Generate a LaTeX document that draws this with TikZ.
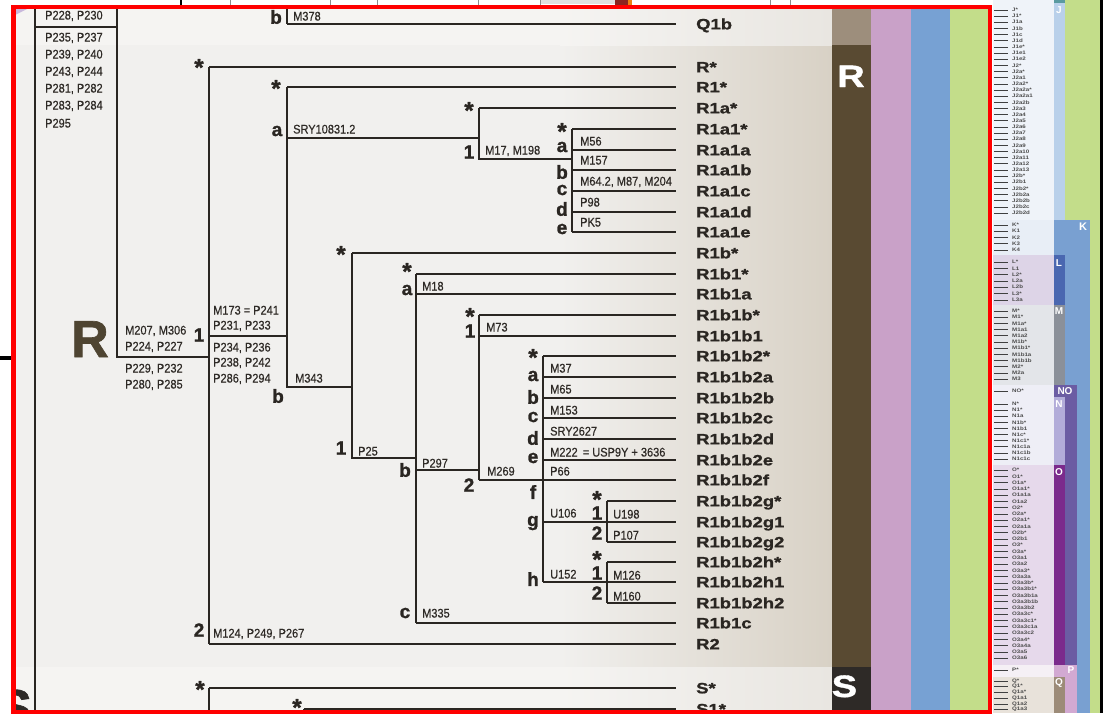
\documentclass[tikz,border=0pt]{standalone}
\usepackage{fontspec}
\setmainfont{Liberation Sans}
\newfontfamily\leaffont[FakeStretch=1.23, BoldFeatures={FakeBold=1.2}]{Liberation Sans}
\newfontfamily\tinyfont[FakeStretch=1.23]{Liberation Sans}
\newfontfamily\markfont[FakeStretch=0.88, FakeBold=0.5]{Liberation Sans}
\newfontfamily\heavyfont[BoldFeatures={FakeBold=1.3}]{Liberation Sans}
\definecolor{ink}{HTML}{2A2622}
\definecolor{mkc}{HTML}{2E2A26}
\definecolor{Rbig}{HTML}{4E4431}
\definecolor{bandR}{HTML}{594A32}
\definecolor{bandQ}{HTML}{9D8E7C}
\definecolor{bandS}{HTML}{2E2A27}
\definecolor{pinkb}{HTML}{C9A1C8}
\definecolor{blueb}{HTML}{77A1D3}
\definecolor{greenb}{HTML}{C3DD8A}
\definecolor{bgL}{HTML}{F1F0EE}
\definecolor{bgR}{HTML}{D8D1C5}
\definecolor{bgQL}{HTML}{F5F4F2}
\definecolor{bgQR}{HTML}{E9E6E1}
\definecolor{lav}{HTML}{C8B8DC}
\definecolor{frame}{HTML}{FF0000}
\definecolor{Jbg}{HTML}{EFF3F9}
\definecolor{Jband}{HTML}{B9D0EA}
\definecolor{Kbg}{HTML}{E8EEF6}
\definecolor{Kband}{HTML}{79A0D1}
\definecolor{Lbg}{HTML}{DDD4E7}
\definecolor{Lband}{HTML}{4A67B0}
\definecolor{Mbg}{HTML}{E3E5E9}
\definecolor{Mband}{HTML}{8B9099}
\definecolor{NObg}{HTML}{EEEEF6}
\definecolor{NOband}{HTML}{6B5CA3}
\definecolor{Nband}{HTML}{B2ACD9}
\definecolor{Obg}{HTML}{E6D9EB}
\definecolor{Oband}{HTML}{7B2A8C}
\definecolor{Pbg}{HTML}{F5F0F5}
\definecolor{Pband}{HTML}{D2A9D2}
\definecolor{Qbg}{HTML}{E8E2DA}
\definecolor{Qband}{HTML}{9C8B78}
\definecolor{teal}{HTML}{5A9AA0}
\definecolor{darkred}{HTML}{8B2420}
\newcommand\leafline[4]{%
  \node[leaf] (#1) at (696,#2) {#3};
  \coordinate (#1-s) at (#4,#2);
  \draw[br] (#1-s) -- (#1-s -| lineend);}
\newcommand\mkr[4]{\node[mk] (#1) at (#2,#3) {#4};}
\newcommand\blt[4]{\node[bl] (#1) at (#2,#3) {#4};}
\newcommand\stx[3]{\node[st] (#1) at (#2,#3) {*};}
\begin{document}
\begin{tikzpicture}[x=1pt,y=-1pt,
  br/.style={draw=ink, line width=1.8pt},
  leaf/.style={anchor=west, inner sep=0pt, text height=10.7pt, text depth=0pt, text=ink, font=\leaffont\bfseries\fontsize{15}{15}\selectfont},
  mk/.style={anchor=west, inner sep=0pt, text height=9pt, text depth=0pt, text=mkc, font=\markfont\fontsize{12.5}{12.5}\selectfont},
  bl/.style={inner sep=0pt, text=ink, font=\heavyfont\bfseries\fontsize{19}{19}\selectfont},
  st/.style={anchor=center, inner sep=0pt, text height=17.3pt, text depth=-10.3pt, text=ink, font=\heavyfont\bfseries\fontsize{24}{24}\selectfont},
  tiny/.style={anchor=west, inner sep=0pt, text=black!70, font=\tinyfont\bfseries\fontsize{5}{5}\selectfont},
  tick/.style={draw=black!75, line width=0.6pt},
  bandlet/.style={inner sep=0pt, text=white, font=\bfseries\fontsize{10}{10}\selectfont},
]
\useasboundingbox (0,0) rectangle (1103,713);
\fill[white] (0,0) rectangle (1103,713);
% ---------- outside bits ----------
\draw[black, line width=2pt] (181,0) -- (181,5);
\draw[black!45, line width=0.5pt] (230,0) -- (230,5) (330,0) -- (330,5) (377,0) -- (377,5) (478,0) -- (478,5) (540,0) -- (540,5) (770,0) -- (770,5) (790,0) -- (790,5);
\fill[black!12] (541,0) rectangle (615,4);
\fill[darkred] (615,0) rectangle (628,5);
\fill[orange!70!brown] (628,0) rectangle (632,5);
\draw[black, line width=3.5pt] (0,358) -- (11,358);
% ---------- right outside panel ----------
\fill[Jbg] (993,0) rectangle (1054,220);
\fill[Kbg] (993,220) rectangle (1054,255);
\fill[Lbg] (993,255) rectangle (1054,305);
\fill[Mbg] (993,305) rectangle (1054,385);
\fill[NObg] (993,385) rectangle (1054,465);
\fill[Obg] (993,465) rectangle (1054,665);
\fill[Pbg] (993,665) rectangle (1054,677);
\fill[Qbg] (993,677) rectangle (1054,713);
\fill[greenb] (1054,0) rectangle (1100,713);
\fill[Jband] (1054,0) rectangle (1065,220);
\fill[teal] (1054,0) rectangle (1065,3);
\fill[Kband] (1054,220) rectangle (1090,713);
\fill[Lband] (1054,255) rectangle (1065,305);
\fill[Mband] (1054,305) rectangle (1065,385);
\fill[NOband] (1054,385) rectangle (1077,665);
\fill[Nband] (1054,397) rectangle (1065,465);
\fill[Oband] (1054,465) rectangle (1065,665);
\fill[Pband] (1054,665) rectangle (1077,713);
\fill[Qband] (1054,677) rectangle (1065,713);
\fill[black] (1100,0) rectangle (1103,713);
\node[bandlet] (bJ) at (1059,10) {J};
\node[bandlet, font=\bfseries\fontsize{11}{11}\selectfont] (bK) at (1083,227) {K};
\node[bandlet] (bL) at (1059,263) {L};
\node[bandlet] (bM) at (1059,311) {M};
\node[bandlet] (bNO) at (1065,391) {NO};
\node[bandlet] (bN) at (1059,404) {N};
\node[bandlet] (bO) at (1059,472) {O};
\node[bandlet] (bP) at (1071,670) {P};
\node[bandlet] (bQ) at (1059,683) {Q};
\foreach \t [count=\i from 0] in {J*,J1*,J1a,J1b,J1c,J1d,J1e*,J1e1,J1e2,J2*,J2a*,J2a1,J2a2*,J2a2a*,J2a2a1,J2a2b,J2a3,J2a4,J2a5,J2a6,J2a7,J2a8,J2a9,J2a10,J2a11,J2a12,J2a13,J2b*,J2b1,J2b2*,J2b2a,J2b2b,J2b2c,J2b2d}
  {\node[tiny] (j\i) at (1012,10+6.15*\i) {\t}; \draw[tick] (994,10+6.15*\i) -- (1008,10+6.15*\i);}
\foreach \t [count=\i from 0] in {K*,K1,K2,K3,K4}
  {\node[tiny] (k\i) at (1012,225+6.25*\i) {\t}; \draw[tick] (994,225+6.25*\i) -- (1008,225+6.25*\i);}
\foreach \t [count=\i from 0] in {L*,L1,L2*,L2a,L2b,L3*,L3a}
  {\node[tiny] (l\i) at (1012,262+6.3*\i) {\t}; \draw[tick] (994,262+6.3*\i) -- (1008,262+6.3*\i);}
\foreach \t [count=\i from 0] in {M*,M1*,M1a*,M1a1,M1a2,M1b*,M1b1*,M1b1a,M1b1b,M2*,M2a,M3}
  {\node[tiny] (m\i) at (1012,311+6.18*\i) {\t}; \draw[tick] (994,311+6.18*\i) -- (1008,311+6.18*\i);}
\node[tiny] (no0) at (1012,391) {NO*}; \draw[tick] (994,391) -- (1008,391);
\foreach \t [count=\i from 0] in {N*,N1*,N1a,N1b*,N1b1,N1c*,N1c1*,N1c1a,N1c1b,N1c1c}
  {\node[tiny] (n\i) at (1012,404+6.1*\i) {\t}; \draw[tick] (994,404+6.1*\i) -- (1008,404+6.1*\i);}
\foreach \t [count=\i from 0] in {O*,O1*,O1a*,O1a1*,O1a1a,O1a2,O2*,O2a*,O2a1*,O2a1a,O2b*,O2b1,O3*,O3a*,O3a1,O3a2,O3a3*,O3a3a,O3a3b*,O3a3b1*,O3a3b1a,O3a3b1b,O3a3b2,O3a3c*,O3a3c1*,O3a3c1a,O3a3c2,O3a4*,O3a4a,O3a5,O3a6}
  {\node[tiny] (o\i) at (1012,470+6.27*\i) {\t}; \draw[tick] (994,470+6.27*\i) -- (1008,470+6.27*\i);}
\node[tiny] (p0) at (1012,670) {P*}; \draw[tick] (994,670) -- (1008,670);
\foreach \t [count=\i from 0] in {Q*,Q1*,Q1a*,Q1a1,Q1a2,Q1a3}
  {\node[tiny] (q\i) at (1012,681+5.7*\i) {\t}; \draw[tick] (994,681+5.7*\i) -- (1008,681+5.7*\i);}
% ---------- main panel ----------
\begin{scope}
\clip (15.5,9) rectangle (988,713);
\fill[bgL] (15,45) rectangle (560,667);
\shade[left color=bgL, right color=bgR] (560,45) rectangle (832,667);
\fill[bgQL] (15,9) rectangle (560,45);
\shade[left color=bgQL, right color=bgQR] (560,9) rectangle (832,45);
\fill[bgQL] (15,667) rectangle (560,713);
\shade[left color=bgQL, right color=bgQR] (560,667) rectangle (832,713);
\fill[bandQ] (832,9) rectangle (871,45);
\fill[bandR] (832,45) rectangle (871,667);
\fill[bandS] (832,667) rectangle (871,713);
\fill[pinkb] (871,9) rectangle (911,713);
\fill[blueb] (911,9) rectangle (950,713);
\fill[greenb] (950,9) rectangle (988,713);
\fill[lav] (15,9) -- (27,9) -- (15,15) -- cycle;
\node[anchor=base west, inner sep=0pt, text=white, font=\leaffont\bfseries\fontsize{31}{31}\selectfont] (bandRlet) at (837,87) {R};
\node[anchor=base west, inner sep=0pt, text=white, font=\leaffont\bfseries\fontsize{31}{31}\selectfont] (bandSlet) at (831.5,697) {S};
\node[anchor=base west, inner sep=0pt, text=bandS, font=\heavyfont\bfseries\fontsize{52}{52}\selectfont] (bigS) at (-3,726) {S};
\end{scope}
\coordinate (lineend) at (676,0);
% big R
\node[anchor=base west, inner sep=0pt, text=Rbig, font=\heavyfont\bfseries\fontsize{52}{52}\selectfont] (bigR) at (71,357) {R};
% left column
\coordinate (c1t) at (35,9); \coordinate (c1b) at (35,713);
\coordinate (c2t) at (117,9); \coordinate (c2b) at (117,357);
\coordinate (bx1) at (35,27); \coordinate (bx2) at (117,27);
\coordinate (rj) at (209,357);
\draw[br] (c1t) -- (c1b);
\draw[br] (c2t) -- (c2b) -- (rj);
\draw[br] (bx1) -- (bx2);
\mkr{p1}{45}{15}{P228, P230}
\mkr{p2}{45}{37}{P235, P237}
\mkr{p3}{45}{54}{P239, P240}
\mkr{p4}{45}{71}{P243, P244}
\mkr{p5}{45}{88}{P281, P282}
\mkr{p6}{45}{105}{P283, P284}
\mkr{p7}{45}{123}{P295}
% leaves
\leafline{Q1b}{24}{Q1b}{287}
\leafline{Rs}{67}{R*}{209}
\leafline{R1s}{87}{R1*}{287}
\leafline{R1as}{108}{R1a*}{479}
\leafline{R1a1s}{129}{R1a1*}{572}
\leafline{R1a1a}{150}{R1a1a}{572}
\leafline{R1a1b}{170}{R1a1b}{572}
\leafline{R1a1c}{191}{R1a1c}{572}
\leafline{R1a1d}{212}{R1a1d}{572}
\leafline{R1a1e}{232}{R1a1e}{572}
\leafline{R1bs}{253}{R1b*}{352}
\leafline{R1b1s}{274}{R1b1*}{416}
\leafline{R1b1a}{294}{R1b1a}{416}
\leafline{R1b1bs}{315}{R1b1b*}{479}
\leafline{R1b1b1}{336}{R1b1b1}{479}
\leafline{R1b1b2s}{356}{R1b1b2*}{543}
\leafline{R1b1b2a}{377}{R1b1b2a}{543}
\leafline{R1b1b2b}{398}{R1b1b2b}{543}
\leafline{R1b1b2c}{418}{R1b1b2c}{543}
\leafline{R1b1b2d}{439}{R1b1b2d}{543}
\leafline{R1b1b2e}{460}{R1b1b2e}{543}
\leafline{R1b1b2f}{480}{R1b1b2f}{479}
\leafline{R1b1b2gs}{501}{R1b1b2g*}{607}
\leafline{R1b1b2g1}{522}{R1b1b2g1}{543}
\leafline{R1b1b2g2}{542}{R1b1b2g2}{607}
\leafline{R1b1b2hs}{562}{R1b1b2h*}{607}
\leafline{R1b1b2h1}{582}{R1b1b2h1}{543}
\leafline{R1b1b2h2}{603}{R1b1b2h2}{607}
\leafline{R1b1c}{623}{R1b1c}{416}
\leafline{R2}{644}{R2}{209}
\leafline{Ss}{688}{S*}{209}
\leafline{S1s}{709}{S1*}{304}
% junction coordinates
\coordinate (qtop) at (287,9);
\coordinate (jR1) at (209,336); \coordinate (kR1) at (287,336);
\coordinate (jR1a) at (287,138); \coordinate (kR1a) at (479,138);
\coordinate (jR1a1) at (479,159); \coordinate (kR1a1) at (572,159);
\coordinate (jR1b) at (287,387); \coordinate (kR1b) at (352,387);
\coordinate (jR1b1) at (352,458); \coordinate (kR1b1) at (416,458);
\coordinate (jR1b1b) at (416,470); \coordinate (kR1b1b) at (479,470);
\coordinate (sbot) at (209,713); \coordinate (s1bot) at (304,713);
% vertical and link lines
\draw[br] (qtop) -- (Q1b-s);
\draw[br] (Rs-s) -- (R2-s);
\draw[br] (jR1) -- (kR1);
\draw[br] (R1s-s) -- (jR1b) -- (kR1b);
\draw[br] (jR1a) -- (kR1a);
\draw[br] (R1as-s) -- (jR1a1) -- (kR1a1);
\draw[br] (R1a1s-s) -- (R1a1e-s);
\draw[br] (R1bs-s) -- (jR1b1) -- (kR1b1);
\draw[br] (R1b1s-s) -- (R1b1c-s);
\draw[br] (jR1b1b) -- (kR1b1b);
\draw[br] (R1b1bs-s) -- (R1b1b2f-s);
\draw[br] (R1b1b2s-s) -- (R1b1b2h1-s);
\draw[br] (R1b1b2gs-s) -- (R1b1b2g2-s);
\draw[br] (R1b1b2hs-s) -- (R1b1b2h2-s);
\draw[br] (Ss-s) -- (sbot);
\draw[br] (S1s-s) -- (s1bot);
% marker labels
\mkr{m1}{293}{16}{M378}
\mkr{m2}{293}{129}{SRY10831.2}
\mkr{m3}{485}{150}{M17, M198}
\mkr{m4}{580}{141}{M56}
\mkr{m5}{580}{160}{M157}
\mkr{m6}{580}{181}{M64.2, M87, M204}
\mkr{m7}{580}{202}{P98}
\mkr{m8}{580}{222}{PK5}
\mkr{m9}{125}{330}{M207, M306}
\mkr{m10}{125}{346}{P224, P227}
\mkr{m11}{125}{368}{P229, P232}
\mkr{m12}{125}{384}{P280, P285}
\mkr{m13}{213}{310}{M173 = P241}
\mkr{m14}{213}{325}{P231, P233}
\mkr{m15}{213}{347}{P234, P236}
\mkr{m16}{213}{362}{P238, P242}
\mkr{m17}{213}{378}{P286, P294}
\mkr{m18}{295}{378}{M343}
\mkr{m19}{358}{451}{P25}
\mkr{m20}{422}{286}{M18}
\mkr{m21}{422}{463}{P297}
\mkr{m22}{486}{327}{M73}
\mkr{m23}{487}{471}{M269}
\mkr{m24}{550}{368}{M37}
\mkr{m25}{550}{389}{M65}
\mkr{m26}{550}{410}{M153}
\mkr{m27}{550}{431}{SRY2627}
\mkr{m28}{550}{452}{M222 \,= USP9Y + 3636}
\mkr{m29}{550}{471}{P66}
\mkr{m30}{550}{513}{U106}
\mkr{m31}{613}{514}{U198}
\mkr{m32}{613}{535}{P107}
\mkr{m33}{550}{574}{U152}
\mkr{m34}{613}{575}{M126}
\mkr{m35}{613}{596}{M160}
\mkr{m36}{422}{613}{M335}
\mkr{m37}{213}{633}{M124, P249, P267}
% branch letters
\blt{b1}{276}{17}{b}
\stx{s1}{199}{67}
\stx{s2}{276}{88}
\blt{b2}{277}{131}{a}
\stx{s3}{469}{110}
\blt{b3}{469}{152}{1}
\stx{s4}{562}{131}
\blt{b4}{562}{147}{a}
\blt{b5}{562}{172}{b}
\blt{b6}{562}{190}{c}
\blt{b7}{562}{209}{d}
\blt{b8}{562}{229}{e}
\blt{b9}{199}{335}{1}
\blt{b10}{278}{396}{b}
\stx{s5}{341}{254}
\blt{b11}{341}{448}{1}
\stx{s6}{407}{271}
\blt{b12}{407}{290}{a}
\stx{s7}{470}{316}
\blt{b13}{470}{331}{1}
\blt{b14}{405}{470}{b}
\blt{b15}{469}{485}{2}
\stx{s8}{533}{357}
\blt{b16}{533}{376}{a}
\blt{b17}{533}{397}{b}
\blt{b18}{533}{417}{c}
\blt{b19}{533}{438}{d}
\blt{b20}{533}{458}{e}
\blt{b21}{533}{492}{f}
\blt{b22}{533}{523}{g}
\blt{b23}{533}{579}{h}
\stx{s9}{597}{499}
\blt{b24}{597}{513}{1}
\blt{b25}{597}{533}{2}
\stx{s10}{597}{559}
\blt{b26}{597}{573}{1}
\blt{b27}{597}{593}{2}
\blt{b28}{405}{613}{c}
\blt{b29}{199}{630}{2}
\stx{s11}{200}{689}
\stx{s12}{297}{707}
% red frame
\draw[frame, line width=4.5pt] (13.5,6.8) rectangle (990,712.5);
\end{tikzpicture}
\end{document}
